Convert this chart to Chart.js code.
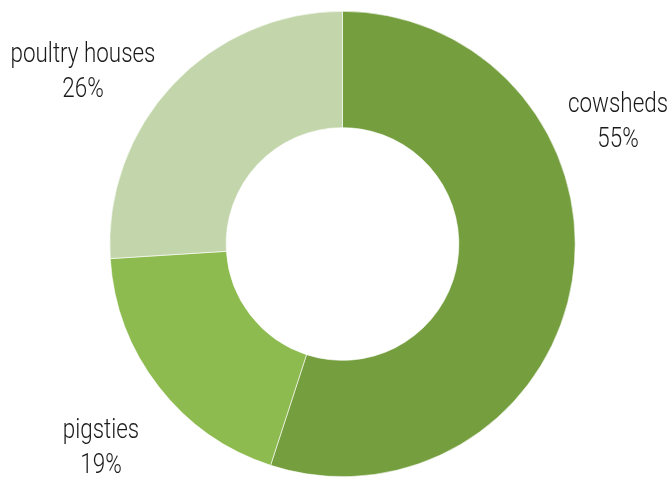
<!DOCTYPE html>
<html>
<head>
<meta charset="utf-8">
<script src="https://cdn.jsdelivr.net/npm/chart.js@4"></script>
<style>
    html, body { margin: 0; padding: 0; background: #ffffff; }
    #wrap { width: 669px; height: 477px; }
</style>
</head>
<body>
<div id="wrap"><canvas id="myChart" width="669" height="477"></canvas></div>
<script>
"use strict";

const categories = ["cowsheds", "pigsties", "poultry houses"];
const shares = [55, 19, 26];
const sliceColors = ["#759e3f", "#8dbb50", "#c3d6ab"];

// where each outside label sits (centre x, baseline of first line)
const labelSpots = [
    { x: 618, y: 112 },
    { x: 101, y: 438 },
    { x: 83, y: 62 }
];

const outsideLabels = {
    id: 'outsideLabels',
    afterDraw(chart) {
        const ctx = chart.ctx;
        ctx.save();
        ctx.fillStyle = '#1a1a1a';
        ctx.font = '300 27px Roboto';
        ctx.textAlign = 'center';
        ctx.textBaseline = 'alphabetic';
        categories.forEach((name, i) => {
            const spot = labelSpots[i];
            const lines = [name, shares[i] + '%'];
            lines.forEach((line, j) => {
                ctx.save();
                ctx.translate(spot.x, spot.y + j * 35);
                ctx.scale(0.83, 1);
                ctx.fillText(line, 0, 0);
                ctx.restore();
            });
        });
        ctx.restore();
    }
};

window.addEventListener('load', () => {
    const ctx = document.getElementById('myChart').getContext('2d');
    const myChart = new Chart(ctx, {
        type: 'doughnut',
        data: {
            labels: categories,
            datasets: [{
                data: shares,
                backgroundColor: sliceColors,
                borderColor: '#ffffff',
                borderWidth: 0.6
            }]
        },
        options: {
            responsive: false,
            animation: false,
            cutout: '50%',
            layout: { padding: { top: 11, bottom: 0, left: 16, right: 0 } },
            plugins: {
                legend: { display: false },
                tooltip: { enabled: false }
            }
        },
        plugins: [outsideLabels]
    });
});
</script>
</body>
</html>
